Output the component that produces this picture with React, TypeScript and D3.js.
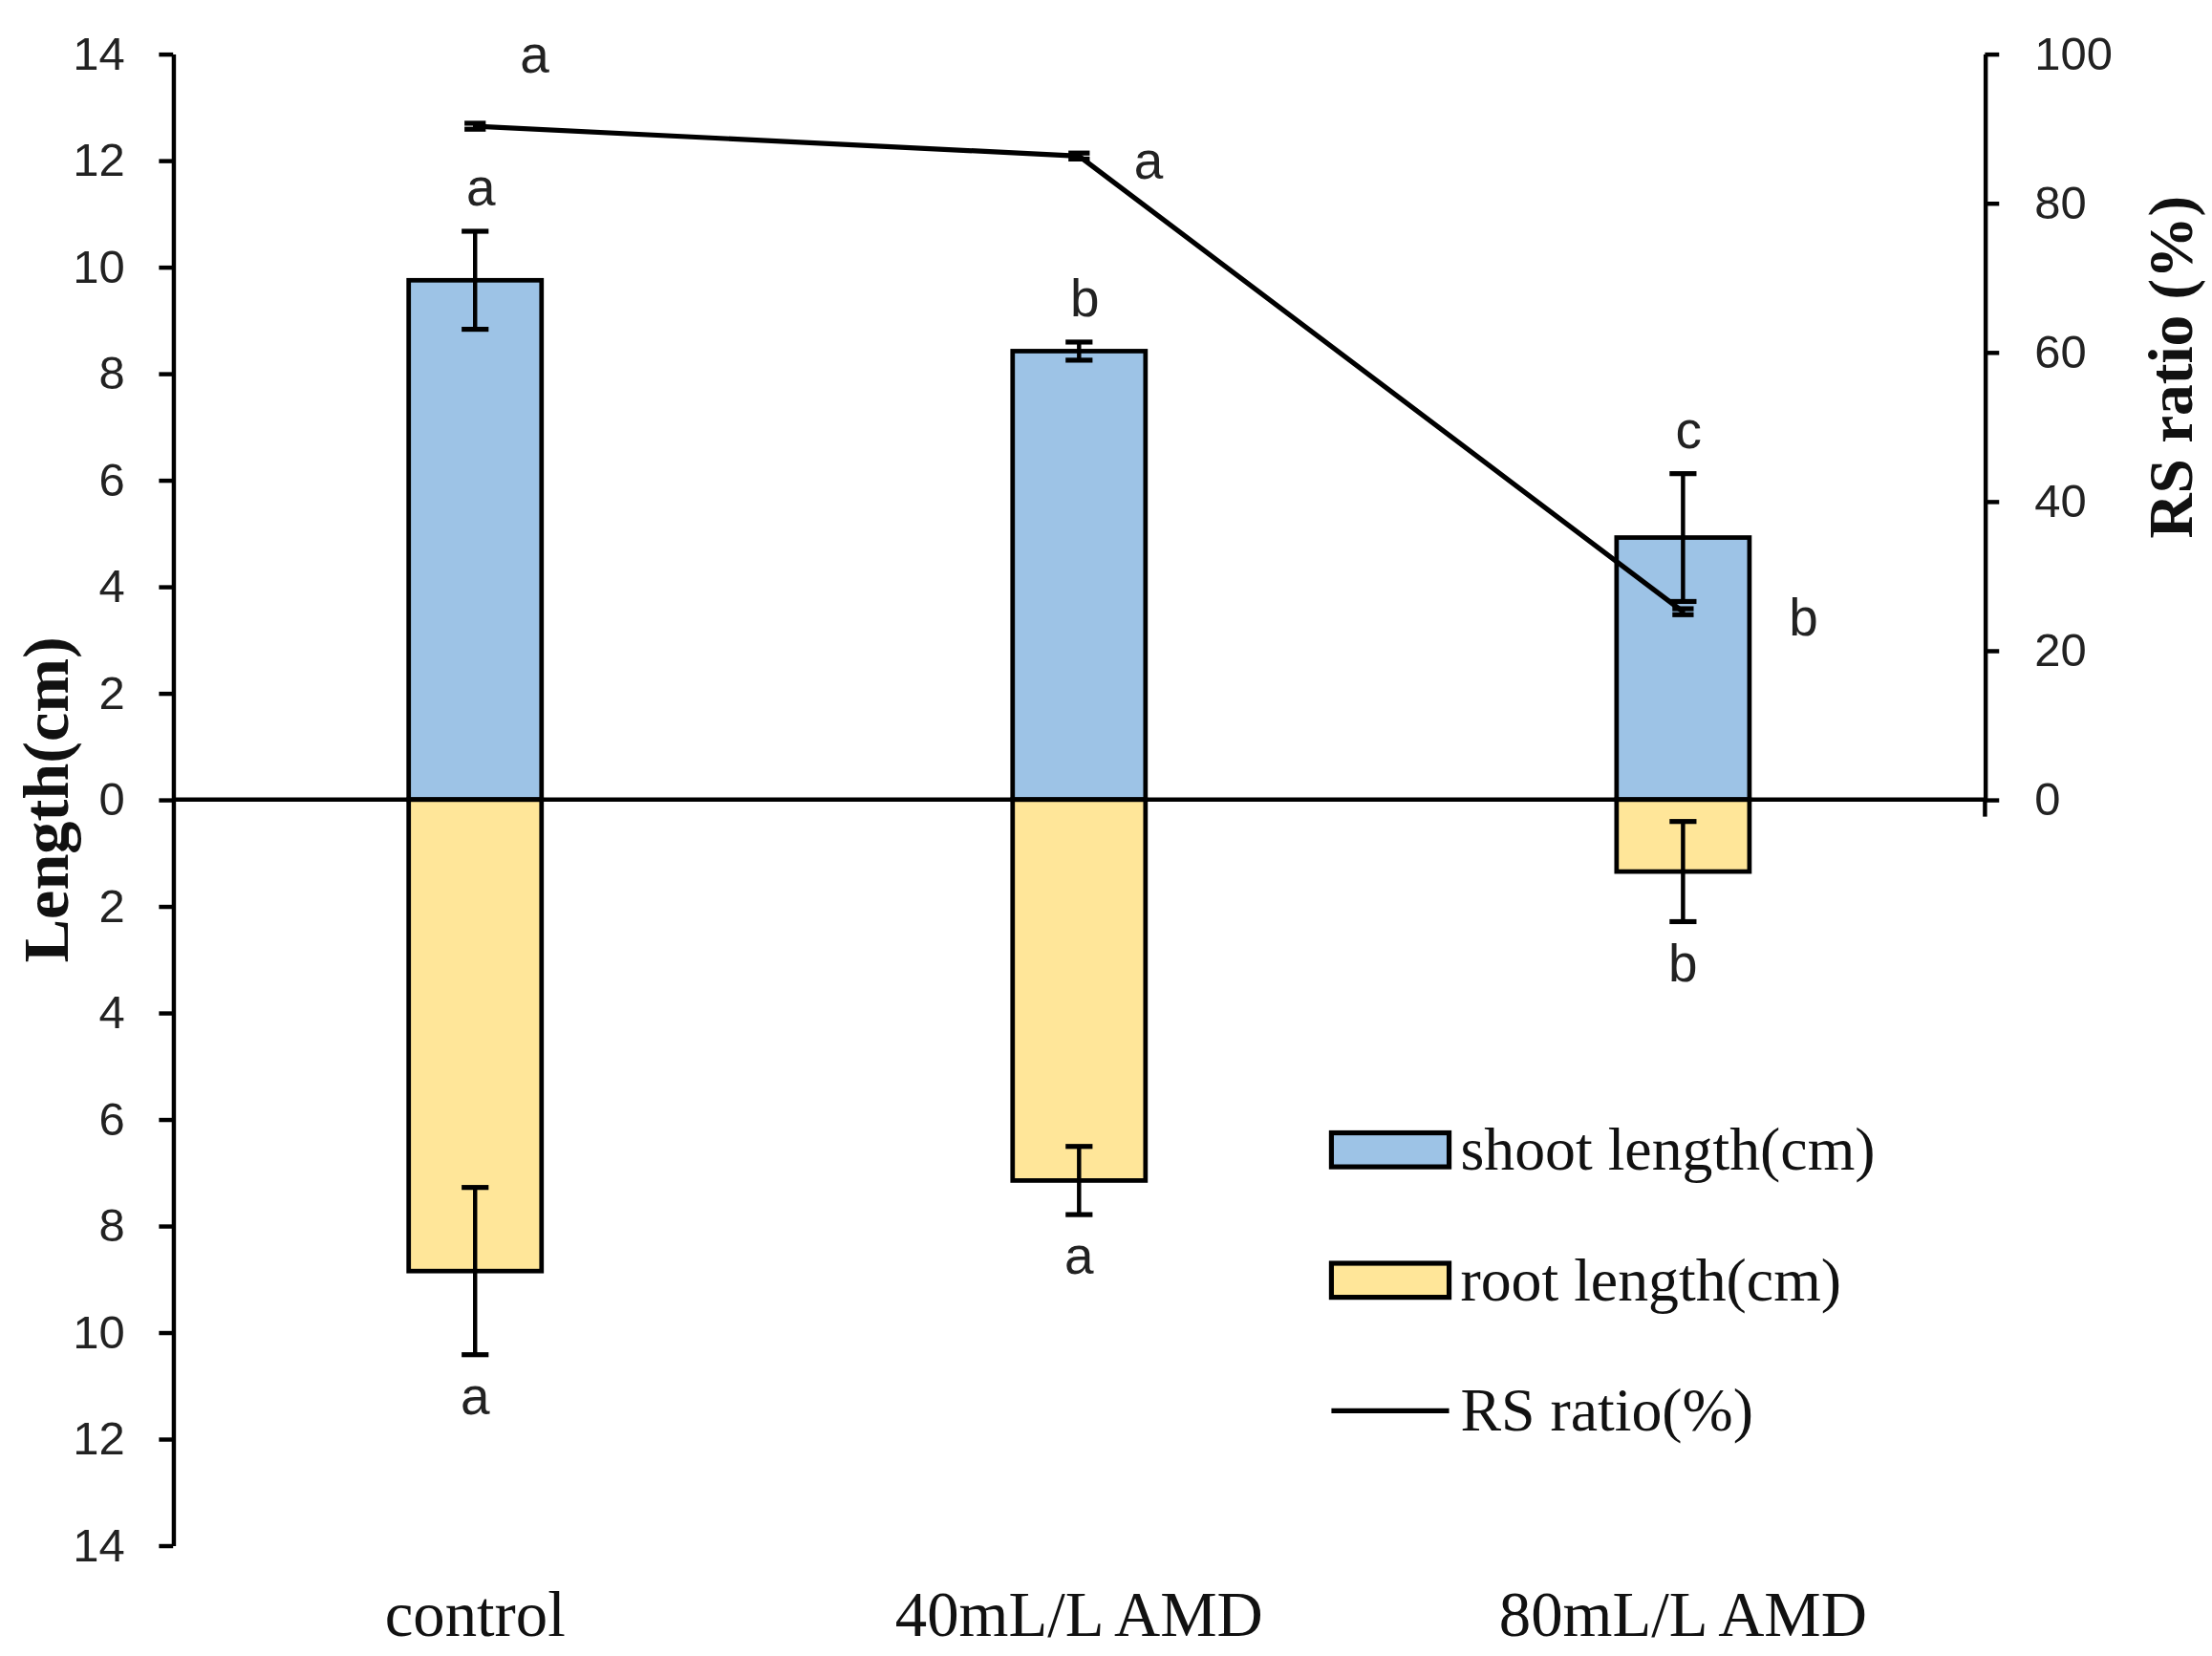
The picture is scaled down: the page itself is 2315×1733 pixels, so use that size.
import React, { useEffect, useRef } from 'react';
import * as d3 from 'd3';

// Treatments
const categories: string[] = ['control', '40mL/L AMD', '80mL/L AMD'];

// Shoot length (cm), drawn above zero
const shootLength: number[] = [9.75, 8.42, 4.92];
const shootSE: number[] = [0.92, 0.17, 1.2];
const shootLetters: string[] = ['a', 'b', 'c'];

// Root length (cm), drawn below zero
const rootLength: number[] = [8.85, 7.15, 1.35];
const rootSE: number[] = [1.57, 0.64, 0.94];
const rootLetters: string[] = ['a', 'a', 'b'];

// Root/shoot ratio (%) on the right axis
const rsRatio: number[] = [90.3, 86.3, 25.2];
const rsSE: number[] = [0.4, 0.4, 0.4];
const rsLetters: string[] = ['a', 'a', 'b'];

const lengthTicks: number[] = [-14, -12, -10, -8, -6, -4, -2, 0, 2, 4, 6, 8, 10, 12, 14];
const rsTicks: number[] = [0, 20, 40, 60, 80, 100];

const legendItems: string[] = ['shoot length(cm)', 'root length(cm)', 'RS ratio(%)'];

const App: React.FC = () => {
    const svgRef = useRef<SVGSVGElement>(null);

    useEffect(() => {
        if (!svgRef.current) return;
        d3.select(svgRef.current).selectAll("*").remove();

        const width = 1560;
        const height = 1168;
        const left = 122;
        const right = 1400;
        const top = 38;
        const bottom = 1090;

        const sans = "'Liberation Sans', Arial, sans-serif";
        const serif = "'Liberation Serif', 'Times New Roman', serif";
        const blue = "#9dc3e6";
        const yellow = "#ffe699";

        const svg = d3.select(svgRef.current)
            .attr("viewBox", `0 0 ${width} ${height}`)
            .attr("width", 2315)
            .attr("height", 1733);

        svg.append("rect").attr("width", width).attr("height", height).attr("fill", "white");

        const x = d3.scalePoint<string>()
            .domain(categories)
            .range([left, right])
            .padding(0.5);

        const barWidth = x.step() * 0.22;

        // negative = root (below zero), positive = shoot
        const yLen = d3.scaleLinear().domain([-14, 14]).range([bottom, top]);
        const yRS = d3.scaleLinear().domain([0, 100]).range([yLen(0), top]);

        const g = svg.append("g");

        // Bars
        const bars = categories.map((c, i) => ({
            cat: c,
            shoot: shootLength[i], shootSE: shootSE[i],
            root: rootLength[i], rootSE: rootSE[i]
        }));

        g.selectAll(".shoot")
            .data(bars)
            .enter().append("rect")
            .attr("class", "shoot")
            .attr("x", d => (x(d.cat) as number) - barWidth / 2)
            .attr("y", d => yLen(d.shoot))
            .attr("width", barWidth)
            .attr("height", d => yLen(0) - yLen(d.shoot))
            .attr("fill", blue)
            .attr("stroke", "black")
            .attr("stroke-width", 3.2);

        g.selectAll(".root")
            .data(bars)
            .enter().append("rect")
            .attr("class", "root")
            .attr("x", d => (x(d.cat) as number) - barWidth / 2)
            .attr("y", yLen(0))
            .attr("width", barWidth)
            .attr("height", d => yLen(-d.root) - yLen(0))
            .attr("fill", yellow)
            .attr("stroke", "black")
            .attr("stroke-width", 3.2);

        // Error bars
        const cap = 19;
        const errorBar = (cx: number, y1: number, y2: number, w: number, sw: number) => {
            g.append("line").attr("x1", cx).attr("x2", cx).attr("y1", y1).attr("y2", y2)
                .attr("stroke", "black").attr("stroke-width", sw);
            [y1, y2].forEach(yy => {
                g.append("line").attr("x1", cx - w / 2).attr("x2", cx + w / 2).attr("y1", yy).attr("y2", yy)
                    .attr("stroke", "black").attr("stroke-width", sw + 0.5);
            });
        };

        bars.forEach(d => {
            const cx = x(d.cat) as number;
            errorBar(cx, yLen(d.shoot + d.shootSE), yLen(d.shoot - d.shootSE), cap, 3);
            errorBar(cx, yLen(-d.root + d.rootSE), yLen(-d.root - d.rootSE), cap, 3);
        });

        // Axes
        const styleAxis = (sel: d3.Selection<SVGGElement, unknown, null, undefined>) => {
            sel.select(".domain").attr("stroke", "black").attr("stroke-width", 3);
            sel.selectAll(".tick line").attr("stroke", "black").attr("stroke-width", 3);
            sel.selectAll(".tick text")
                .attr("fill", "#222")
                .style("font-family", sans)
                .style("font-size", "33px");
        };

        const leftAxis = g.append("g")
            .attr("transform", `translate(${left},0)`)
            .call(d3.axisLeft(yLen)
                .tickValues(lengthTicks)
                .tickSize(10)
                .tickSizeOuter(0)
                .tickPadding(24)
                .tickFormat(d => String(Math.abs(d as number))));
        styleAxis(leftAxis);

        const rightAxis = g.append("g")
            .attr("transform", `translate(${right},0)`)
            .call(d3.axisRight(yRS)
                .tickValues(rsTicks)
                .tickSize(10)
                .tickSizeOuter(0)
                .tickPadding(25)
                .tickFormat(d => String(d)));
        styleAxis(rightAxis);

        // small overhang of the right axis below zero
        g.append("line")
            .attr("x1", right).attr("x2", right)
            .attr("y1", yLen(0)).attr("y2", yLen(0) + 12)
            .attr("stroke", "black").attr("stroke-width", 3);

        // Zero line
        g.append("line")
            .attr("x1", left).attr("x2", right)
            .attr("y1", yLen(0)).attr("y2", yLen(0))
            .attr("stroke", "black").attr("stroke-width", 3);

        // RS ratio line
        const rsData = categories.map((c, i) => ({ cat: c, v: rsRatio[i], se: rsSE[i] }));
        const line = d3.line<{ cat: string; v: number }>()
            .x(d => x(d.cat) as number)
            .y(d => yRS(d.v));

        g.append("path")
            .datum(rsData)
            .attr("fill", "none")
            .attr("stroke", "black")
            .attr("stroke-width", 3.5)
            .attr("d", line);

        rsData.forEach(d => {
            const cx = x(d.cat) as number;
            errorBar(cx, yRS(d.v + d.se), yRS(d.v - d.se), 15, 3);
        });

        // Significance letters
        const letter = (tx: number, ty: number, t: string) => {
            g.append("text")
                .attr("x", tx).attr("y", ty)
                .attr("text-anchor", "middle")
                .attr("fill", "#222")
                .style("font-family", sans)
                .style("font-size", "37px")
                .text(t);
        };

        bars.forEach((d, i) => {
            const cx = x(d.cat) as number;
            letter(cx + 4, yLen(d.shoot + d.shootSE) - 18, shootLetters[i]);
            letter(cx, yLen(-d.root - d.rootSE) + 42, rootLetters[i]);
        });

        const rsLetterOffset: [number, number][] = [[42, -38], [49, 16], [85, 17]];
        rsData.forEach((d, i) => {
            const cx = x(d.cat) as number;
            letter(cx + rsLetterOffset[i][0], yRS(d.v) + rsLetterOffset[i][1], rsLetters[i]);
        });

        // Category labels
        g.selectAll(".cat")
            .data(categories)
            .enter().append("text")
            .attr("class", "cat")
            .attr("x", d => x(d) as number)
            .attr("y", 1154)
            .attr("text-anchor", "middle")
            .attr("fill", "#111")
            .style("font-family", serif)
            .style("font-size", "45px")
            .text(d => d);

        // Axis titles
        svg.append("text")
            .attr("transform", `translate(48,${yLen(0)}) rotate(-90)`)
            .attr("text-anchor", "middle")
            .attr("fill", "#111")
            .style("font-family", serif)
            .style("font-size", "46px")
            .style("font-weight", "bold")
            .text("Length(cm)");

        svg.append("text")
            .attr("transform", `translate(1546,${yRS(58)}) rotate(-90)`)
            .attr("text-anchor", "middle")
            .attr("fill", "#111")
            .style("font-family", serif)
            .style("font-size", "44px")
            .style("font-weight", "bold")
            .text("RS ratio (%)");

        // Legend
        const lg = svg.append("g").attr("transform", "translate(939,0)");
        const legendY = [811, 903, 995];
        legendItems.forEach((t, i) => {
            if (i < 2) {
                lg.append("rect")
                    .attr("x", 0).attr("y", legendY[i] - 12)
                    .attr("width", 83).attr("height", 24)
                    .attr("fill", i === 0 ? blue : yellow)
                    .attr("stroke", "black")
                    .attr("stroke-width", 3.5);
            } else {
                lg.append("line")
                    .attr("x1", 0).attr("x2", 83)
                    .attr("y1", legendY[i]).attr("y2", legendY[i])
                    .attr("stroke", "black").attr("stroke-width", 3.5);
            }
            lg.append("text")
                .attr("x", 91).attr("y", legendY[i] + 14)
                .attr("fill", "#111")
                .style("font-family", serif)
                .style("font-size", "43px")
                .text(t);
        });
    }, []);

    return (
        <svg ref={svgRef} style={{ position: 'absolute', left: 0, top: 0, display: 'block' }}></svg>
    );
};

export default App;
